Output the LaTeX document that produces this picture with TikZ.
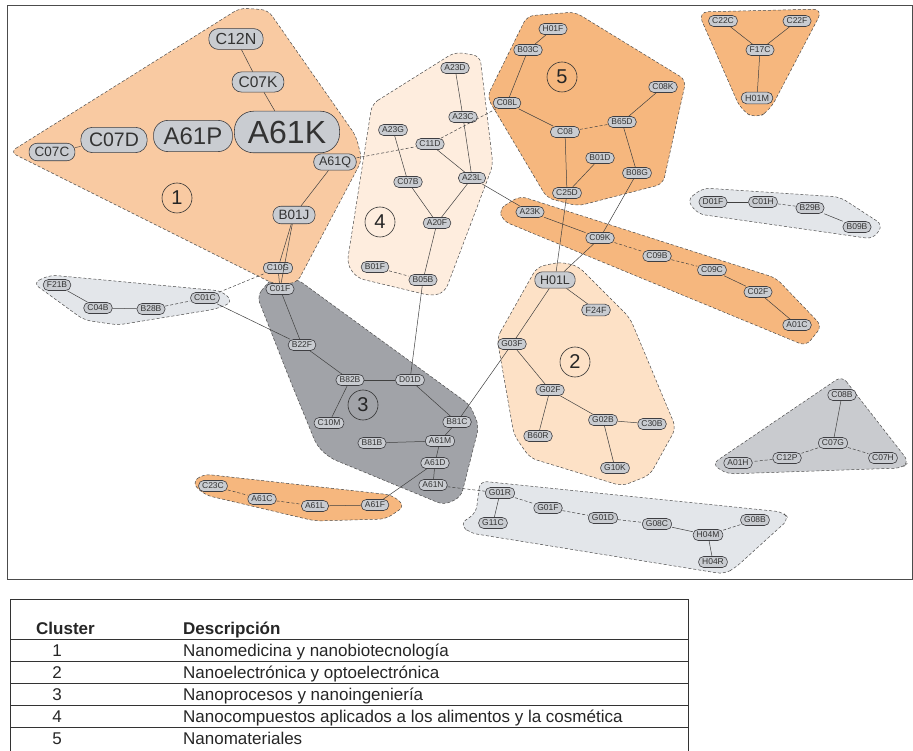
\documentclass[tikz,border=0pt]{standalone}
\usepackage{fontspec}
\setmainfont{Liberation Sans}
\usepackage{tikz}
\usetikzlibrary{positioning,backgrounds}
\definecolor{nodeGray}{RGB}{201,204,209}
\definecolor{nodeEdge}{RGB}{62,62,66}
\definecolor{peachOne}{RGB}{249,202,162}
\definecolor{orangeDeep}{RGB}{246,183,126}
\definecolor{peachTwo}{RGB}{253,225,198}
\definecolor{peachFour}{RGB}{254,237,222}
\definecolor{grayDark}{RGB}{161,163,168}
\definecolor{grayLight}{RGB}{227,230,234}
\definecolor{grayMid}{RGB}{201,203,207}
\tikzset{
  kwnode/.style={
    rectangle, draw=nodeEdge, line width=0.6pt, fill=nodeGray, text=black!80,
    rounded corners=#1*0.6pt, inner xsep=#1*0.42pt, inner ysep=0pt,
    minimum height=#1*1.3pt, font=\fontsize{#1}{#1}\selectfont
  },
  kwnode/.default=8.5,
  kwLink/.style={draw=black!75, line width=0.5pt},
  kwWeak/.style={kwLink, densely dashed},
  hullShape/.style={draw=black!70, line width=0.5pt, densely dashed, rounded corners=7pt},
  clusterNum/.style={circle, draw=black!80, line width=0.6pt, minimum size=30pt,
    inner sep=0pt, font=\fontsize{20}{20}\selectfont, text=black!85}
}
\begin{document}
\begin{tikzpicture}[
    x=1pt, y=-1pt,
    tabText/.style={anchor=base west, inner sep=0pt, font=\fontsize{17}{17}\selectfont, text=black!85},
    tabNum/.style={anchor=base, inner sep=0pt, font=\fontsize{17}{17}\selectfont, text=black!85}
  ]
    \useasboundingbox (0,0) rectangle (913,751);
    \fill[white] (0,0) rectangle (913,751);
    \draw[black!70, line width=0.9pt] (7,5) rectangle (912,579);

    \draw[hullShape, fill=grayDark] (257,296) -- (272,278) -- (297,279) -- (470,405) -- (479,426)
          -- (461,497) -- (444,505) -- (330,458) -- (317,446) -- (290,380) -- cycle;
    \draw[hullShape, fill=peachOne] (10,152) -- (240,8) -- (268,10) -- (356,136) -- (362,160)
          -- (297,283) -- (274,284) -- cycle;
    \draw[hullShape, fill=peachFour] (372,104) -- (455,52) -- (480,56) -- (493,165) -- (445,292)
          -- (432,296) -- (357,278) -- (347,264) -- cycle;
    \draw[hullShape, fill=orangeDeep] (487,97) -- (527,16) -- (575,12) -- (686,80) -- (663,184)
          -- (578,206) -- (547,198) -- cycle;
    \draw[hullShape, fill=orangeDeep] (499,209) -- (520,196) -- (776,278) -- (822,326) -- (806,346)
          -- (503,221) -- cycle;
    \draw[hullShape, fill=orangeDeep, rounded corners=10pt] (698,12) -- (823,9) -- (770,110)
          -- (756,119) -- (741,110) -- cycle;
    \draw[hullShape, fill=grayLight] (687,200) -- (703,188) -- (840,197) -- (883,225) -- (873,239)
          -- (698,214) -- cycle;
    \draw[hullShape, fill=peachTwo] (497,338) -- (537,267) -- (560,262) -- (578,266) -- (630,318)
          -- (676,428) -- (650,475) -- (622,486) -- (530,458) -- (514,435) -- cycle;
    \draw[hullShape, fill=grayLight] (33,283) -- (50,275) -- (222,291) -- (233,302) -- (216,309)
          -- (118,325) -- (84,320) -- cycle;
    \draw[hullShape, fill=orangeDeep] (192,483) -- (203,474) -- (392,495) -- (405,506) -- (386,519)
          -- (315,521) -- (205,495) -- cycle;
    \draw[hullShape, fill=grayLight] (480,481) -- (476,513) -- (460,524) -- (470,533) -- (724,574)
          -- (735,568) -- (789,519) -- (783,512) -- cycle;
    \draw[hullShape, fill=grayMid] (842,376) -- (909,462) -- (902,468) -- (727,474) -- (712,464) -- cycle;

    \node[kwnode=16] (C12N) at (236,39) {C12N};
    \node[kwnode=15.5] (C07K) at (258,82) {C07K};
    \node[kwnode=32] (A61K) at (287,132) {A61K};
    \node[kwnode=24] (A61P) at (193,136) {A61P};
    \node[kwnode=19.5] (C07D) at (114,140) {C07D};
    \node[kwnode=13.5] (C07C) at (52,152) {C07C};
    \node[kwnode=12.5] (A61Q) at (335,162) {A61Q};
    \node[kwnode=13.5] (B01J) at (294,215) {B01J};
    \node[kwnode] (C10G) at (278,268) {C10G};

    \node[kwnode] (F21B) at (57,285) {F21B};
    \node[kwnode] (C04B) at (98,308) {C04B};
    \node[kwnode] (B28B) at (151,309) {B28B};
    \node[kwnode] (C01C) at (205,298) {C01C};

    \node[kwnode] (C01F) at (280,289) {C01F};
    \node[kwnode] (B22F) at (302,345) {B22F};
    \node[kwnode] (B82B) at (350,380) {B82B};
    \node[kwnode] (D01D) at (410,380) {D01D};
    \node[kwnode] (C10M) at (329,423) {C10M};
    \node[kwnode] (B81C) at (457,422) {B81C};
    \node[kwnode] (B81B) at (372,443) {B81B};
    \node[kwnode] (A61M) at (440,441) {A61M};
    \node[kwnode] (A61D) at (435,463) {A61D};
    \node[kwnode] (A61N) at (433,485) {A61N};

    \node[kwnode] (A23D) at (455,68) {A23D};
    \node[kwnode] (A23C) at (463,117) {A23C};
    \node[kwnode] (A23G) at (393,130) {A23G};
    \node[kwnode] (C11D) at (430,144) {C11D};
    \node[kwnode] (C07B) at (408,182) {C07B};
    \node[kwnode] (A23L) at (472,178) {A23L};
    \node[kwnode] (A20F) at (437,223) {A20F};
    \node[kwnode] (B01F) at (375,267) {B01F};
    \node[kwnode] (B05B) at (423,280) {B05B};

    \node[kwnode] (H01F) at (553,29) {H01F};
    \node[kwnode] (B03C) at (528,50) {B03C};
    \node[kwnode] (C08K) at (663,87) {C08K};
    \node[kwnode] (C08L) at (507,103) {C08L};
    \node[kwnode] (B65D) at (622,122) {B65D};
    \node[kwnode, minimum width=29pt] (C08) at (565,132) {C08};
    \node[kwnode] (B01D) at (600,158) {B01D};
    \node[kwnode] (B08G) at (637,173) {B08G};
    \node[kwnode] (C25D) at (567,193) {C25D};

    \node[kwnode] (A23K) at (530,212) {A23K};
    \node[kwnode] (C09K) at (600,238) {C09K};
    \node[kwnode] (C09B) at (657,256) {C09B};
    \node[kwnode] (C09C) at (712,270) {C09C};
    \node[kwnode] (C02F) at (758,292) {C02F};
    \node[kwnode] (A01C) at (797,325) {A01C};

    \node[kwnode] (C22C) at (723,21) {C22C};
    \node[kwnode] (C22F) at (797,21) {C22F};
    \node[kwnode] (F17C) at (760,50) {F17C};
    \node[kwnode=9] (H01M) at (757,98) {H01M};

    \node[kwnode] (D01F) at (713,202) {D01F};
    \node[kwnode] (C01H) at (763,202) {C01H};
    \node[kwnode] (B29B) at (810,208) {B29B};
    \node[kwnode] (B09B) at (857,227) {B09B};

    \node[kwnode=12.5] (H01L) at (555,280) {H01L};
    \node[kwnode=9] (F24F) at (596,310) {F24F};
    \node[kwnode] (G03F) at (512,344) {G03F};
    \node[kwnode] (G02F) at (550,390) {G02F};
    \node[kwnode] (B60R) at (538,436) {B60R};
    \node[kwnode] (G02B) at (603,420) {G02B};
    \node[kwnode] (C30B) at (652,424) {C30B};
    \node[kwnode] (G10K) at (615,468) {G10K};

    \node[kwnode] (C23C) at (213,486) {C23C};
    \node[kwnode] (A61C) at (262,499) {A61C};
    \node[kwnode] (A61L) at (315,506) {A61L};
    \node[kwnode] (A61F) at (375,505) {A61F};

    \node[kwnode] (G01R) at (500,493) {G01R};
    \node[kwnode] (G11C) at (493,523) {G11C};
    \node[kwnode] (G01F) at (548,508) {G01F};
    \node[kwnode] (G01D) at (603,518) {G01D};
    \node[kwnode] (G08C) at (657,524) {G08C};
    \node[kwnode] (H04M) at (708,535) {H04M};
    \node[kwnode] (G08B) at (755,520) {G08B};
    \node[kwnode] (H04R) at (713,562) {H04R};

    \node[kwnode] (C08B) at (842,395) {C08B};
    \node[kwnode] (C07G) at (833,443) {C07G};
    \node[kwnode] (C12P) at (787,458) {C12P};
    \node[kwnode] (A01H) at (738,463) {A01H};
    \node[kwnode] (C07H) at (883,458) {C07H};

    \draw[kwLink] (C12N) -- (C07K);
    \draw[kwLink] (C07K) -- (A61K);
    \draw[kwLink] (C07D) -- (C07C);
    \draw[kwLink] (A61Q) -- (B01J);
    \draw[kwLink] (B01J) -- (C10G);
    \draw[kwLink] (B01J) -- (C01F);
    \draw[kwWeak] (A61Q) -- (C11D);

    \draw[kwLink] (F21B) -- (C04B);
    \draw[kwLink] (C04B) -- (B28B);
    \draw[kwWeak] (B28B) -- (C01C);
    \draw[kwWeak] (C01C) -- (C10G);
    \draw[kwLink] (C01C) -- (B22F);

    \draw[kwLink] (C10G) -- (C01F);
    \draw[kwLink] (C01F) -- (B22F);
    \draw[kwLink] (B22F) -- (B82B);
    \draw[kwLink] (B82B) -- (D01D);
    \draw[kwLink] (B82B) -- (C10M);
    \draw[kwLink] (D01D) -- (B81C);
    \draw[kwLink] (B81C) -- (A61M);
    \draw[kwLink] (B81B) -- (A61M);
    \draw[kwLink] (A61M) -- (A61D);
    \draw[kwLink] (A61D) -- (A61N);
    \draw[kwLink] (A61D) -- (A61F);
    \draw[kwWeak] (A61N) -- (G01R);
    \draw[kwLink] (B05B) -- (D01D);
    \draw[kwLink] (G03F) -- (B81C);

    \draw[kwLink] (A23D) -- (A23C);
    \draw[kwLink] (A23C) -- (A23L);
    \draw[kwLink] (C11D) -- (A23L);
    \draw[kwWeak] (C11D) -- (C08L);
    \draw[kwLink] (A23G) -- (C07B);
    \draw[kwLink] (C07B) -- (A20F);
    \draw[kwLink] (A23L) -- (A20F);
    \draw[kwLink] (A20F) -- (B05B);
    \draw[kwWeak] (B01F) -- (B05B);
    \draw[kwLink] (A23L) -- (A23K);

    \draw[kwLink] (H01F) -- (B03C);
    \draw[kwLink] (B03C) -- (C08L);
    \draw[kwLink] (C08L) -- (C08);
    \draw[kwWeak] (C08) -- (B65D);
    \draw[kwLink] (B65D) -- (C08K);
    \draw[kwLink] (B65D) -- (B08G);
    \draw[kwLink] (B01D) -- (C25D);
    \draw[kwLink] (C08) -- (C25D);
    \draw[kwLink] (C25D) -- (H01L);
    \draw[kwLink] (B08G) -- (C09K);
    \draw[kwLink] (C09K) -- (H01L);

    \draw[kwLink] (A23K) -- (C09K);
    \draw[kwWeak] (C09K) -- (C09B);
    \draw[kwWeak] (C09B) -- (C09C);
    \draw[kwLink] (C09C) -- (C02F);
    \draw[kwLink] (C02F) -- (A01C);

    \draw[kwLink] (C22C) -- (F17C);
    \draw[kwLink] (C22F) -- (F17C);
    \draw[kwLink] (F17C) -- (H01M);

    \draw[kwLink] (D01F) -- (C01H);
    \draw[kwWeak] (C01H) -- (B29B);
    \draw[kwLink] (B29B) -- (B09B);

    \draw[kwLink] (H01L) -- (F24F);
    \draw[kwLink] (H01L) -- (G03F);
    \draw[kwLink] (G03F) -- (G02F);
    \draw[kwLink] (G02F) -- (B60R);
    \draw[kwLink] (G02F) -- (G02B);
    \draw[kwLink] (G02B) -- (C30B);
    \draw[kwLink] (G02B) -- (G10K);

    \draw[kwWeak] (C23C) -- (A61C);
    \draw[kwWeak] (A61C) -- (A61L);
    \draw[kwLink] (A61L) -- (A61F);

    \draw[kwLink] (G01R) -- (G11C);
    \draw[kwWeak] (G01R) -- (G01F);
    \draw[kwWeak] (G01F) -- (G01D);
    \draw[kwWeak] (G01D) -- (G08C);
    \draw[kwLink] (G08C) -- (H04M);
    \draw[kwWeak] (H04M) -- (G08B);
    \draw[kwLink] (H04M) -- (H04R);

    \draw[kwLink] (C08B) -- (C07G);
    \draw[kwWeak] (C07G) -- (C12P);
    \draw[kwWeak] (C12P) -- (A01H);
    \draw[kwWeak] (C07G) -- (C07H);

    \node[clusterNum] (clu1) at (177,198) {1};
    \node[clusterNum] (clu2) at (575,362) {2};
    \node[clusterNum] (clu3) at (363,405) {3};
    \node[clusterNum] (clu4) at (380,222) {4};
    \node[clusterNum] (clu5) at (562,77) {5};

    \draw[black!80, line width=0.8pt] (10,751) -- (10,599) -- (688,599) -- (688,751);
    \foreach \ry in {639,661,683,705,727}
      \draw[black!80, line width=0.8pt] (10,\ry) -- (688,\ry);
    \node[tabText] (tabHead) at (36,634) {\textbf{Cluster}};
    \node[tabText] (tabHeadDesc) at (183,634) {\textbf{Descripción}};
    \foreach \n/\txt in {1/{Nanomedicina y nanobiotecnología},
                         2/{Nanoelectrónica y optoelectrónica},
                         3/{Nanoprocesos y nanoingeniería},
                         4/{Nanocompuestos aplicados a los alimentos y la cosmética},
                         5/{Nanomateriales}}{
      \node[tabNum] (tabNum\n) at (57,634+22*\n) {\n};
      \node[tabText] (tabDesc\n) at (183,634+22*\n) {\txt};
    }
  \end{tikzpicture}
\end{document}
